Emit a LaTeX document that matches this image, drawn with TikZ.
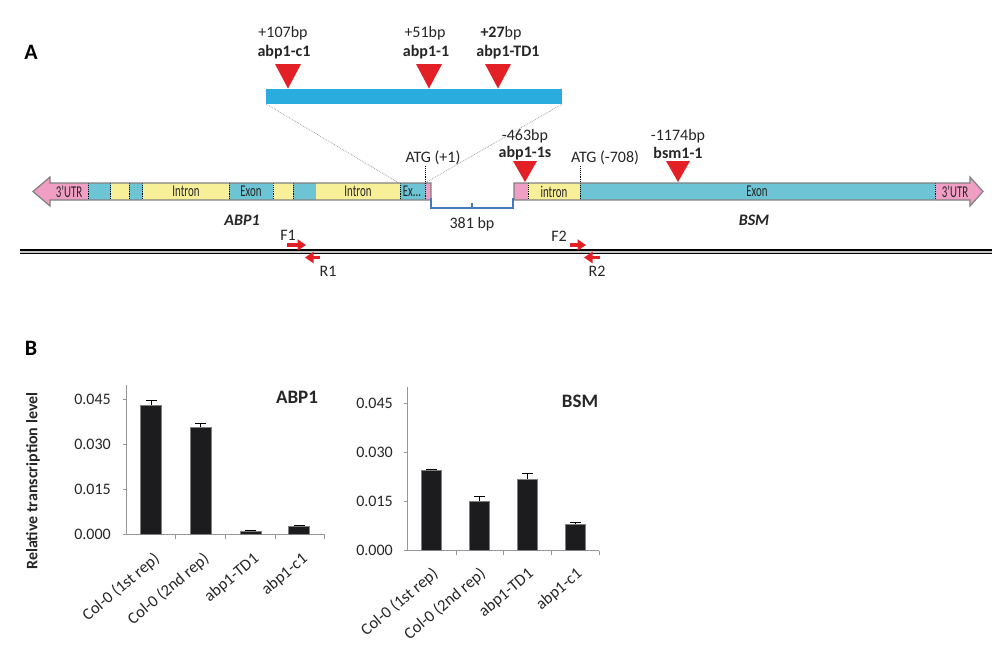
\documentclass[tikz,border=0pt]{standalone}
\usepackage{fontspec}
\setmainfont{Carlito}
\usetikzlibrary{arrows.meta}
\definecolor{upink}{RGB}{240,158,196}
\definecolor{ecyan}{RGB}{108,196,212}
\definecolor{iyel}{RGB}{248,240,152}
\definecolor{mred}{RGB}{226,32,38}
\definecolor{cblue}{RGB}{42,172,222}
\definecolor{bblue}{RGB}{70,120,190}
\definecolor{axgray}{RGB}{150,150,150}
\definecolor{barblk}{RGB}{28,28,30}
\newcommand{\segtxt}[1]{\scalebox{0.66}[1]{#1}}
\tikzset{
  lbl/.style={inner sep=0pt, font=\fontsize{16}{19}\selectfont, text=black!85},
  blbl/.style={inner sep=0pt, font=\fontsize{16}{19}\selectfont\bfseries, text=black!85},
  seglbl/.style={inner sep=0pt, font=\fontsize{16.5}{16}\selectfont, text=black!85},
  sep/.style={black, densely dotted, line width=0.9pt},
  mtri/.style={fill=mred},
  primer/.style={mred, line width=3.4pt, -{Triangle[length=8.5pt,width=11pt]}},
  tick/.style={inner sep=0pt, font=\fontsize{16}{19}\selectfont, text=black!85, anchor=east},
  cat/.style={inner sep=0pt, font=\fontsize{16.5}{19}\selectfont, text=black!85, anchor=east, rotate=40},
  ax/.style={axgray, line width=1pt},
  bar/.style={fill=barblk, draw=gray, line width=0.6pt},
  err/.style={black, line width=1pt}
}
\begin{document}
\begin{tikzpicture}[x=1pt,y=-1pt]
\useasboundingbox (0,0) rectangle (1000,659);
\fill[white] (0,0) rectangle (1000,659);
% panel labels
\node[inner sep=0pt, font=\fontsize{22}{24}\selectfont\bfseries] (pa) at (31,52) {A};
\node[inner sep=0pt, font=\fontsize{22}{24}\selectfont\bfseries] (pb) at (31,348) {B};

% ===== zoomed exon bar =====
\fill[cblue] (266,89.3) rectangle (562.3,104);
\coordinate (zl) at (266,104);
\coordinate (zr) at (562.3,104);
\coordinate (gl) at (399,183);
\coordinate (gr) at (425,183);
\draw[gray!70, densely dotted, line width=0.8pt] (zl) -- (gl);
\draw[gray!70, densely dotted, line width=0.8pt] (zr) -- (gr);
\fill[mtri] (275,64) -- (301,64) -- (288,88.5) -- cycle;
\fill[mtri] (416,64) -- (442,64) -- (429,88.5) -- cycle;
\fill[mtri] (485,64) -- (511,64) -- (498,88.5) -- cycle;
\node[lbl] (t1a) at (283,33) {+107bp};
\node[blbl] (t1b) at (284,52) {abp1-c1};
\node[lbl] (t2a) at (425,33) {+51bp};
\node[blbl] (t2b) at (426,52) {abp1-1};
\node[lbl] (t3a) at (501,33) {\textbf{+27}bp};
\node[blbl] (t3b) at (508,52) {abp1-TD1};

% ===== ABP1 gene =====
\fill[upink] (33,191.5) -- (50,177) -- (50,183) -- (88,183) -- (88,200) -- (50,200) -- (50,206) -- cycle;
\fill[ecyan] (88,183) rectangle (110.7,200);
\fill[iyel] (110.7,183) rectangle (129,200);
\fill[ecyan] (129,183) rectangle (142.7,200);
\fill[iyel] (142.7,183) rectangle (229,200);
\fill[ecyan] (229,183) rectangle (273,200);
\fill[iyel] (273,183) rectangle (293,200);
\fill[ecyan] (293,183) rectangle (316,200);
\fill[iyel] (316,183) rectangle (400,200);
\fill[ecyan] (400,183) rectangle (425,200);
\fill[upink] (425,183) rectangle (431,200);
\foreach \xx in {88,110.7,129,142.7,229,273,293,400}
  \draw[sep] (\xx,183) -- (\xx,200);
\draw[gray, line width=1.2pt, line join=miter] (33,191.5) -- (50,177) -- (50,183) -- (431,183) -- (431,200) -- (50,200) -- (50,206) -- cycle;
\node[seglbl] (s1) at (69,191.5) {\segtxt{3'UTR}};
\node[seglbl] (s2) at (186,191.5) {\segtxt{Intron}};
\node[seglbl] (s3) at (251,191.5) {\segtxt{Exon}};
\node[seglbl] (s4) at (358,191.5) {\segtxt{Intron}};
\node[seglbl] (s5) at (412,191.5) {\segtxt{Ex...}};
\draw[sep] (425,166) -- (425,200);
\node[lbl] (atg1) at (433,158) {ATG (+1)};
\node[inner sep=0pt, font=\fontsize{16}{19}\selectfont\bfseries\itshape, text=black!85] (abp1) at (242,220) {ABP1};

% ===== BSM gene =====
\fill[upink] (514,183) rectangle (528,200);
\fill[iyel] (528,183) rectangle (580,200);
\fill[ecyan] (580,183) rectangle (935,200);
\fill[upink] (935,183) -- (970,183) -- (970,177) -- (983,191.5) -- (970,206) -- (970,200) -- (935,200) -- cycle;
\draw[sep] (528,183) -- (528,200);
\draw[sep] (935,183) -- (935,200);
\draw[sep] (580,166) -- (580,200);
\draw[gray, line width=1.2pt, line join=miter] (514,183) -- (970,183) -- (970,177) -- (983,191.5) -- (970,206) -- (970,200) -- (514,200) -- cycle;
\node[seglbl] (s6) at (554,191.5) {\segtxt{intron}};
\node[seglbl] (s7) at (757,191.5) {\segtxt{Exon}};
\node[seglbl] (s8) at (955,191.5) {\segtxt{3'UTR}};
\node[lbl] (atg2) at (605,158) {ATG (-708)};
\node[inner sep=0pt, font=\fontsize{16}{19}\selectfont\bfseries\itshape, text=black!85] (bsm) at (754,220) {BSM};
\fill[mtri] (513,161) -- (537,161) -- (525,182) -- cycle;
\node[lbl] (t4a) at (525,136) {-463bp};
\node[blbl] (t4b) at (525,153) {abp1-1s};
\fill[mtri] (666,161) -- (690,161) -- (678,182) -- cycle;
\node[lbl] (t5a) at (678,136) {-1174bp};
\node[blbl] (t5b) at (678,153) {bsm1-1};

% bracket 381 bp
\draw[bblue, line width=1.2pt] (431,198) -- (431,208) -- (513,208) -- (513,198);
\draw[bblue, line width=1.2pt] (472,208) -- (472,203);
\node[lbl] (bp381) at (472,224) {381 bp};

% ===== chromosome line and primers =====
\draw[black, line width=4.6pt] (20,251.5) -- (992,251.5);
\draw[gray!45, line width=2pt] (20,251.5) -- (992,251.5);
\coordinate (f1s) at (287,245);
\coordinate (f1e) at (306,245);
\coordinate (r1s) at (320,257.5);
\coordinate (r1e) at (305,257.5);
\coordinate (f2s) at (570,245);
\coordinate (f2e) at (586,245);
\coordinate (r2s) at (600,257.5);
\coordinate (r2e) at (584,257.5);
\draw[primer] (f1s) -- (f1e);
\draw[primer] (r1s) -- (r1e);
\draw[primer] (f2s) -- (f2e);
\draw[primer] (r2s) -- (r2e);
\node[lbl] (F1) at (288,235) {F1};
\node[lbl] (R1) at (328,271) {R1};
\node[lbl] (F2) at (559,236) {F2};
\node[lbl] (R2) at (597,271) {R2};

% ===== chart 1: ABP1 =====
\node[inner sep=0pt, font=\fontsize{16}{19}\selectfont\bfseries, text=black!85, rotate=90] (ylab) at (33,481) {Relative transcription level};
\draw[ax] (126.7,385) -- (126.7,534) -- (324,534);
\foreach \yy/\tt in {399.3/0.045, 444.2/0.030, 489.1/0.015, 534/0.000}{
  \draw[ax] (122.5,\yy) -- (126.7,\yy);
  \node[tick] at (111,\yy) {\tt};
}
\foreach \xx in {175.7,225.7,275,324}
  \draw[ax] (\xx,534) -- (\xx,538.5);
\node[blbl, font=\fontsize{19}{22}\selectfont\bfseries] (c1t) at (297,397) {ABP1};
\foreach \cx/\tp/\et in {151.2/405/400.7, 200.7/427.7/423.3, 250.7/531/530.3, 299/526.7/525.5}{
  \draw[err] (\cx,\tp) -- (\cx,\et);
  \draw[err] (\cx-5.5,\et) -- (\cx+5.5,\et);
  \draw[bar] (\cx-10.5,534) rectangle (\cx+10.5,\tp);
}
\node[cat] (c1a) at (157.5,557) {Col-0 (1st rep)};
\node[cat] (c1b) at (207,557) {Col-0 (2nd rep)};
\node[cat] (c1c) at (257,557) {abp1-TD1};
\node[cat] (c1d) at (305.5,557) {abp1-c1};

% ===== chart 2: BSM =====
\draw[ax] (407.7,386.7) -- (407.7,550.5) -- (599.3,550.5);
\foreach \yy/\tt in {403.3/0.045, 452.3/0.030, 501.4/0.015, 550.5/0.000}{
  \draw[ax] (403.5,\yy) -- (407.7,\yy);
  \node[tick] at (393,\yy) {\tt};
}
\foreach \xx in {456,503.3,551.7,599.3}
  \draw[ax] (\xx,550.5) -- (\xx,555);
\node[blbl, font=\fontsize{19}{22}\selectfont\bfseries] (c2t) at (580,401) {BSM};
\foreach \cx/\tp/\et in {431.7/470/469, 479.3/501/496, 527.3/479/473.3, 575.7/524.3/522.3}{
  \draw[err] (\cx,\tp) -- (\cx,\et);
  \draw[err] (\cx-5.5,\et) -- (\cx+5.5,\et);
  \draw[bar] (\cx-10,550.5) rectangle (\cx+10,\tp);
}
\node[cat] (c2a) at (436,572) {Col-0 (1st rep)};
\node[cat] (c2b) at (483.5,572) {Col-0 (2nd rep)};
\node[cat] (c2c) at (531.5,572) {abp1-TD1};
\node[cat] (c2d) at (580,572) {abp1-c1};
\end{tikzpicture}
\end{document}
